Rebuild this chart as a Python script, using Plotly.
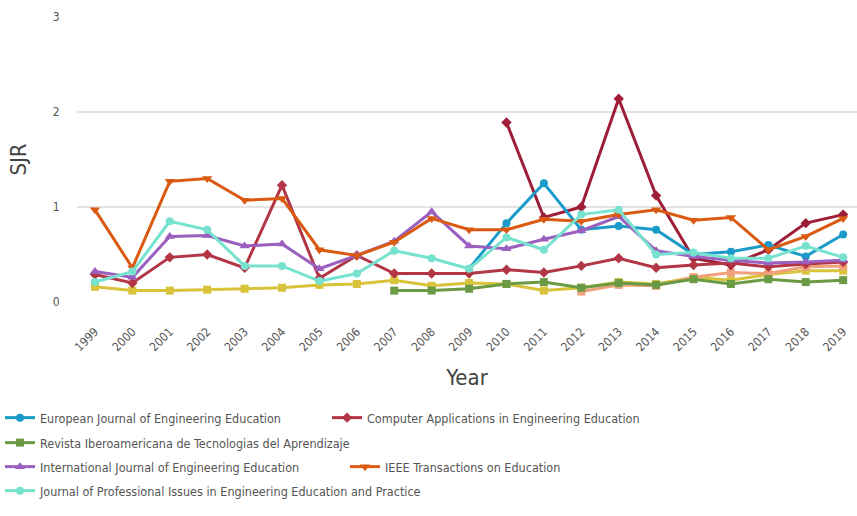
import plotly.graph_objects as go

years = list(range(1999, 2020))
yr2007 = list(range(2007, 2020))
yr2009 = list(range(2009, 2020))
yr2010 = list(range(2010, 2020))
yr2012 = list(range(2012, 2020))

ejee = [0.35, 0.83, 1.25, 0.76, 0.80, 0.76, 0.50, 0.53, 0.60, 0.48, 0.71]
caee = [0.29, 0.20, 0.47, 0.50, 0.36, 1.23, 0.25, 0.49, 0.30, 0.30, 0.30,
        0.34, 0.31, 0.38, 0.46, 0.36, 0.39, 0.41, 0.37, 0.40, 0.42]
revista = [0.12, 0.12, 0.14, 0.19, 0.21, 0.15, 0.20, 0.18, 0.24, 0.19, 0.24, 0.21, 0.23]
ijee = [0.32, 0.26, 0.69, 0.70, 0.59, 0.61, 0.35, 0.49, 0.64, 0.95, 0.59,
        0.56, 0.66, 0.75, 0.90, 0.54, 0.48, 0.44, 0.41, 0.42, 0.44]
ieee = [0.97, 0.36, 1.27, 1.30, 1.07, 1.09, 0.55, 0.49, 0.63, 0.88, 0.76,
        0.76, 0.87, 0.85, 0.92, 0.97, 0.86, 0.89, 0.55, 0.69, 0.88]
jpieep = [0.21, 0.32, 0.85, 0.76, 0.38, 0.38, 0.22, 0.30, 0.54, 0.46, 0.35,
          0.68, 0.55, 0.92, 0.97, 0.50, 0.52, 0.46, 0.46, 0.59, 0.47]
red2 = [1.89, 0.89, 1.00, 2.14, 1.12, 0.46, 0.39, 0.55, 0.83, 0.92]
yellow = [0.16, 0.12, 0.12, 0.13, 0.14, 0.15, 0.18, 0.19, 0.23, 0.17, 0.20,
          0.19, 0.12, 0.15, 0.21, 0.19, 0.26, 0.23, 0.29, 0.33, 0.33]
salmon = [0.11, 0.18, 0.17, 0.26, 0.31, 0.30, 0.37, 0.38]

FONT = "DejaVu Sans Condensed, DejaVu Sans, sans-serif"

fig = go.Figure()

def add(x, y, name, color, symbol, legend, show=True, size=8):
    fig.add_trace(go.Scatter(
        x=x, y=y, name=name, mode="lines+markers",
        line=dict(color=color, width=3),
        marker=dict(color=color, symbol=symbol, size=size),
        legend=legend, showlegend=show))

# background series (their legend rows fall below the visible area)
add(years, yellow, "Series 7", "#d8c33a", "square", "legend", show=False)
add(yr2012, salmon, "Series 8", "#f0a17c", "square", "legend", show=False)
add(yr2010, red2, "Series 9", "#9d1e36", "diamond", "legend", show=False)

add(yr2009, ejee, "European Journal of Engineering Education", "#1b9bc9", "circle", "legend")
add(years, caee, "Computer Applications in Engineering Education", "#b33646", "diamond", "legend")
add(yr2007, revista, "Revista Iberoamericana de Tecnologias del Aprendizaje", "#6b9a45", "square", "legend2")
add(years, ijee, "International Journal of Engineering Education", "#9b5fc0", "triangle-up", "legend3", size=9)
add(years, ieee, "IEEE Transactions on Education", "#d95a10", "triangle-down", "legend3", size=9)
add(years, jpieep, "Journal of Professional Issues in Engineering Education and Practice", "#76e2cf", "circle", "legend4")

leg_common = dict(orientation="h", xref="container", yref="container",
                  xanchor="left", yanchor="middle",
                  font=dict(family=FONT, size=12.5, color="#555555"),
                  bgcolor="rgba(0,0,0,0)", itemwidth=30)

fig.update_layout(
    width=857, height=516,
    margin=dict(l=77, r=0, t=17, b=214),
    paper_bgcolor="white", plot_bgcolor="white",
    font=dict(family=FONT, color="#444444"),
    legend=dict(x=0, y=1 - 418 / 516, entrywidth=282, **leg_common),
    legend2=dict(x=0, y=1 - 443 / 516, **leg_common),
    legend3=dict(x=0, y=1 - 467 / 516, entrywidth=300, **leg_common),
    legend4=dict(x=0, y=1 - 491 / 516, **leg_common),
    xaxis=dict(
        range=[1998.52, 2019.37], tickmode="array", tickvals=years,
        ticktext=[str(y) for y in years], tickangle=-45,
        showgrid=False, zeroline=False, showline=False,
        ticks="outside", ticklen=17, tickcolor="rgba(0,0,0,0)",
        tickfont=dict(family=FONT, size=12, color="#555555"),
        title=dict(text="Year", font=dict(family=FONT, size=22, color="#444444"), standoff=16),
    ),
    yaxis=dict(
        range=[0, 3], tickvals=[0, 1, 2, 3],
        showgrid=True, gridcolor="#e3e3e3", gridwidth=1.5,
        zeroline=False, showline=False,
        ticks="outside", ticklen=14, tickcolor="rgba(0,0,0,0)",
        tickfont=dict(family=FONT, size=12, color="#555555"),
        title=dict(text="SJR", font=dict(family=FONT, size=22, color="#444444"), standoff=20),
    ),
)

fig.write_html("out.html", config={"displayModeBar": False},
               post_script="document.body.style.margin='0';")
